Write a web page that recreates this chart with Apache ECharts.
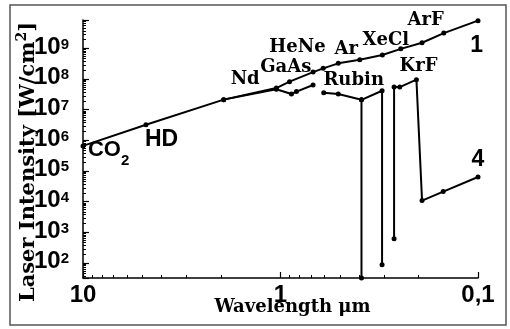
<!DOCTYPE html>
<html>
<head>
<meta charset="utf-8">
<title>Laser Intensity</title>
<script src="https://cdn.jsdelivr.net/npm/echarts@6/dist/echarts.min.js"></script>
<style>
html, body { margin: 0; padding: 0; background: #fff; }
#chart { width: 510px; height: 329px; }
</style>
</head>
<body>
<div id="chart"></div>
<script>
// curve 1 - upper envelope
var wave1 = [10, 4.8, 1.94, 1.05, 0.90, 0.684, 0.608, 0.51, 0.397, 0.305, 0.246, 0.192, 0.149, 0.1];
var power1 = [6.5e5, 3.2e6, 2.1e7, 5.0e7, 8.1e7, 1.66e8, 2.2e8, 3.2e8, 4.2e8, 6.0e8, 9.5e8, 1.5e9, 3.1e9, 7.9e9];

// curve 4 - null breaks the line
var wave4 = [1.94, 1.05, 0.88, 0.83, 0.684, null, 0.604, 0.51, 0.389, 0.306, 0.306, null, 0.389, 0.389, null, 0.266, 0.266, 0.249, 0.205, 0.192, 0.150, 0.1];
var power4 = [2.1e7, 4.6e7, 3.2e7, 3.85e7, 6.3e7, null, 3.5e7, 3.2e7, 2.07e7, 4.1e7, 86, null, 2.07e7, 32, null, 610, 5.4e7, 5.4e7, 9.4e7, 1.07e4, 2.1e4, 6.3e4];

// names written on the plot, anchored in data space
var labelNames = ['CO2', 'HD', 'Nd', 'GaAs', 'HeNe', 'Ar', 'XeCl', 'ArF', 'KrF', 'Rubin', '1', '4'];
var labelWave = [9.44, 4.0, 1.51, 0.94, 0.82, 0.465, 0.293, 0.184, 0.20, 0.426, 0.1016, 0.1];
var labelPower = [2.1e5, 1.02e6, 9.3e7, 2.45e8, 1.07e9, 9.5e8, 1.74e9, 8.1e9, 2.56e8, 8.9e7, 1.23e9, 2.3e5];

var xTickLabels = ['10', '1', '0,1'];
var yMin = 32, yMax = 8.3e9;

var SANS = "'Liberation Sans', Arial, sans-serif";
var SERIF = "'DejaVu Serif', 'Liberation Serif', serif";

function pairs(xs, ys) {
    var out = [];
    for (var i = 0; i < xs.length; i++) {
        out.push(xs[i] == null ? ['-', '-'] : [xs[i], ys[i]]);
    }
    return out;
}

function labelData() {
    var out = [];
    for (var i = 0; i < labelNames.length; i++) {
        var n = labelNames[i];
        var item = { name: n, value: [labelWave[i], labelPower[i]] };
        if (n == 'CO2') {
            item.label = { align: 'left', formatter: '{a|CO}{sub|2}' };
        } else if (n == 'HD' || n == '1' || n == '4') {
            item.label = { formatter: '{big|' + n + '}' };
        } else {
            item.label = { formatter: '{ser|' + n + '}' };
        }
        out.push(item);
    }
    return out;
}

var chart = echarts.init(document.getElementById('chart'), null, { renderer: 'canvas' });

var option = {
    animation: false,
    backgroundColor: '#fff',
    grid: { left: 83, right: 32, top: 20, bottom: 51, containLabel: false, outerBoundsMode: 'none' },
    graphic: [{
        type: 'rect',
        shape: { x: 10, y: 5, width: 496, height: 320 },
        style: { fill: 'none', stroke: '#555', lineWidth: 1.5 },
        silent: true
    }],
    xAxis: {
        type: 'log',
        logBase: 10,
        min: 0.1,
        max: 10,
        inverse: true,
        name: 'Wavelength μm',
        nameLocation: 'middle',
        nameGap: 20,
        nameMoveOverlap: false,
        nameTextStyle: { fontFamily: SERIF, fontWeight: 'bold', fontSize: 18, color: '#000', padding: [0, 0, 0, 24] },
        axisLine: { lineStyle: { color: '#000', width: 1.5 } },
        axisTick: { inside: true, length: 6, lineStyle: { color: '#000', width: 1.2 } },
        minorTick: { show: true, splitNumber: 9, length: 3, lineStyle: { color: '#000', width: 1 } },
        splitLine: { show: false },
        axisLabel: {
            margin: 5,
            color: '#000',
            fontFamily: SANS,
            fontWeight: 'bold',
            fontSize: 24,
            formatter: function (v) {
                var e = Math.round(Math.log10(v));
                return xTickLabels[1 - e];
            }
        }
    },
    yAxis: {
        type: 'log',
        logBase: 10,
        min: yMin,
        max: yMax,
        splitNumber: 8,
        name: '{n|Laser Intensity [W/cm}{s|2}{n|]}',
        nameLocation: 'middle',
        nameGap: 44,
        nameMoveOverlap: false,
        nameTextStyle: {
            padding: [0, 26, 0, 0],
            rich: {
                n: { fontFamily: SERIF, fontWeight: 'bold', fontSize: 21, color: '#000', lineHeight: 24, verticalAlign: 'bottom' },
                s: { fontFamily: SERIF, fontWeight: 'bold', fontSize: 14, color: '#000', lineHeight: 13, verticalAlign: 'top' }
            }
        },
        axisLine: { show: true, lineStyle: { color: '#000', width: 1.5 } },
        axisTick: { show: true, inside: true, length: 6, lineStyle: { color: '#000', width: 1.2 } },
        minorTick: { show: true, splitNumber: 10, length: 3, lineStyle: { color: '#000', width: 1 } },
        splitLine: { show: false },
        axisLabel: {
            margin: 14,
            formatter: function (v) {
                var lg = Math.log10(v);
                var e = Math.round(lg);
                if (Math.abs(lg - e) > 0.01) return '';
                return '{b|10}{s|' + e + '}';
            },
            rich: {
                b: { fontFamily: SANS, fontWeight: 'bold', fontSize: 24, color: '#000', lineHeight: 22, verticalAlign: 'bottom' },
                s: { fontFamily: SANS, fontWeight: 'bold', fontSize: 15, color: '#000', lineHeight: 14, verticalAlign: 'top' }
            }
        }
    },
    series: [{
        name: '1',
        type: 'line',
        data: pairs(wave1, power1),
        symbol: 'circle',
        symbolSize: 5,
        showAllSymbol: true,
        itemStyle: { color: '#000' },
        lineStyle: { color: '#000', width: 2 },
        clip: false
    }, {
        name: '4',
        type: 'line',
        data: pairs(wave4, power4),
        connectNulls: false,
        symbol: 'circle',
        symbolSize: 5,
        showAllSymbol: true,
        itemStyle: { color: '#000' },
        lineStyle: { color: '#000', width: 2 },
        clip: false
    }, {
        name: 'labels',
        type: 'scatter',
        data: labelData(),
        symbolSize: 0,
        clip: false,
        silent: true,
        itemStyle: { color: '#000', opacity: 1 },
        label: {
            show: true,
            position: 'inside',
            color: '#000',
            opacity: 1,
            textBorderWidth: 0,
            rich: {
                a: { fontFamily: SANS, fontWeight: 'bold', fontSize: 22, color: '#000', lineHeight: 20, verticalAlign: 'top' },
                sub: { fontFamily: SANS, fontWeight: 'bold', fontSize: 15, color: '#000', lineHeight: 44 },
                big: { fontFamily: SANS, fontWeight: 'bold', fontSize: 23, color: '#000' },
                ser: { fontFamily: SERIF, fontWeight: 'bold', fontSize: 18, color: '#000' }
            }
        }
    }]
};

chart.setOption(option);
</script>
</body>
</html>
